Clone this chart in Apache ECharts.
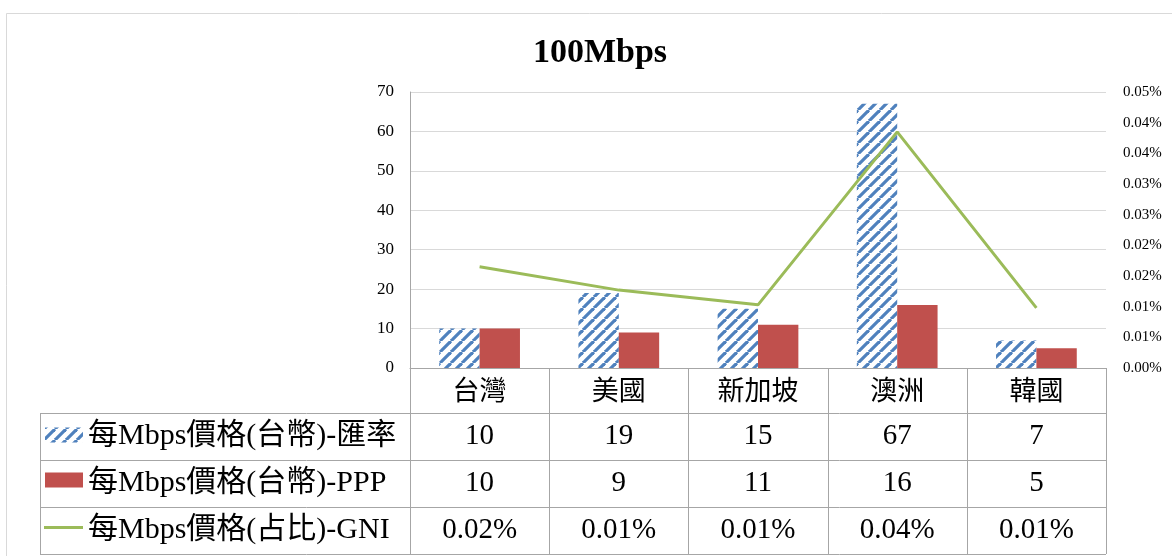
<!DOCTYPE html>
<html>
<head>
<meta charset="utf-8">
<script src="https://cdn.jsdelivr.net/npm/echarts@6/dist/echarts.min.js"></script>
<style>
  html, body { margin: 0; padding: 0; background: #fff; }
  #chart { width: 1172px; height: 556px; }
</style>
</head>
<body>
<div id="chart"></div>
<script>
// ---- data ----
const chartTitle = '100Mbps';
const categories = ['台灣', '美國', '新加坡', '澳洲', '韓國'];
const seriesNames = ['每Mbps價格(台幣)-匯率', '每Mbps價格(台幣)-PPP', '每Mbps價格(占比)-GNI'];
const priceFx = [10, 19, 15, 67, 7];          // NT$ per Mbps, exchange-rate basis
const pricePpp = [10, 9, 11, 16, 5];          // NT$ per Mbps, PPP basis
const shareGni = [0.0165, 0.0127, 0.0103, 0.0385, 0.0098]; // % of GNI per Mbps
const leftAxis = { min: 0, max: 70, interval: 10 };
const rightAxis = { min: 0, max: 0.045, interval: 0.005 };

// ---- styling ----
const SERIF = '"Liberation Serif", "Noto Sans CJK TC", serif';
const CJK = '"Noto Sans CJK TC", "Liberation Serif", sans-serif';
const BLUE = '#4f81bd', RED = '#c0504d', GREEN = '#9bbb59';
const TABLE_LINE = '#a6a6a6', GRID_LINE = '#d9d9d9';

function pct(v) {
  return (Math.round(v * 100 + 1e-9) / 100).toFixed(2) + '%';
}

// diagonal "/" stripe tile for the exchange-rate bars
function makeHatch() {
  const s = 11;
  const c = document.createElement('canvas');
  c.width = s; c.height = s;
  const ctx = c.getContext('2d');
  ctx.fillStyle = '#fff';
  ctx.fillRect(0, 0, s, s);
  ctx.strokeStyle = BLUE;
  ctx.lineWidth = 3.2;
  for (let k = -1; k <= 1; k++) {
    ctx.beginPath();
    ctx.moveTo(k * s, s);
    ctx.lineTo(k * s + s, 0);
    ctx.stroke();
  }
  return { image: c, repeat: 'repeat' };
}
const hatch = makeHatch();

const chart = echarts.init(document.getElementById('chart'));

const plotLeft = 410, plotRight = 1106, plotTop = 92, plotBottom = 368;

chart.setOption({
  animation: false,
  backgroundColor: '#fff',
  title: {
    text: chartTitle,
    left: 595,
    top: 31,
    textAlign: 'center',
    textStyle: { fontFamily: SERIF, fontSize: 34, fontWeight: 'bold', color: '#000' }
  },
  grid: { left: plotLeft, right: 1172 - plotRight, top: plotTop, bottom: 556 - plotBottom, containLabel: false },
  xAxis: {
    type: 'category',
    data: categories,
    axisLine: { show: true, lineStyle: { color: TABLE_LINE, width: 1 } },
    axisTick: { show: false },
    axisLabel: {
      margin: 22,
      verticalAlign: 'middle',
      fontFamily: CJK,
      fontSize: 27,
      color: '#000'
    }
  },
  yAxis: [
    {
      type: 'value',
      min: leftAxis.min, max: leftAxis.max, interval: leftAxis.interval,
      axisLine: { show: true, lineStyle: { color: TABLE_LINE, width: 1 } },
      axisTick: { show: false },
      splitLine: { lineStyle: { color: GRID_LINE, width: 1 } },
      axisLabel: { margin: 16, fontFamily: SERIF, fontSize: 17, color: '#000' }
    },
    {
      type: 'value',
      min: rightAxis.min, max: rightAxis.max, interval: rightAxis.interval,
      axisLine: { show: false },
      axisTick: { show: false },
      splitLine: { show: false },
      axisLabel: { margin: 17, fontFamily: SERIF, fontSize: 15, color: '#000', formatter: pct }
    }
  ],
  series: [
    {
      name: seriesNames[0], type: 'bar', data: priceFx,
      barGap: '0%', barCategoryGap: '42%',
      itemStyle: { color: hatch }
    },
    {
      name: seriesNames[1], type: 'bar', data: pricePpp,
      barGap: '0%', barCategoryGap: '42%',
      itemStyle: { color: RED }
    },
    {
      name: seriesNames[2], type: 'line', yAxisIndex: 1, data: shareGni,
      showSymbol: false, symbol: 'none',
      lineStyle: { color: GREEN, width: 3 },
      itemStyle: { color: GREEN },
      z: 5
    }
  ]
});

// ---- data table under the plot ----
const rowLines = [plotBottom, 413, 460, 507, 554];
const tableLeft = 40;
const c0 = chart.convertToPixel({ xAxisIndex: 0 }, 0);
const c1 = chart.convertToPixel({ xAxisIndex: 0 }, 1);
const colW = c1 - c0;
const centers = categories.map((_, i) => chart.convertToPixel({ xAxisIndex: 0 }, i));
const bounds = [];
for (let k = 0; k <= categories.length; k++) bounds.push(Math.round(c0 - colW / 2 + k * colW));

const g = [];
function hline(x1, x2, y) {
  g.push({ type: 'line', shape: { x1: x1, y1: y + 0.5, x2: x2, y2: y + 0.5 }, style: { stroke: TABLE_LINE, lineWidth: 1 }, silent: true });
}
function vline(x, y1, y2) {
  g.push({ type: 'line', shape: { x1: x + 0.5, y1: y1, x2: x + 0.5, y2: y2 }, style: { stroke: TABLE_LINE, lineWidth: 1 }, silent: true });
}

// outer chart frame
g.push({ type: 'rect', shape: { x: 6.5, y: 13.5, width: 1300, height: 700 }, style: { fill: null, stroke: GRID_LINE, lineWidth: 1 }, silent: true, z: -1 });

// horizontal rules
for (let r = 1; r < rowLines.length; r++) hline(tableLeft, bounds[bounds.length - 1], rowLines[r]);
// vertical rules
vline(tableLeft, rowLines[1], rowLines[rowLines.length - 1]);
for (let k = 0; k < bounds.length; k++) vline(bounds[k], plotBottom, rowLines[rowLines.length - 1]);

const rowValues = [
  priceFx.map(String),
  pricePpp.map(String),
  shareGni.map(pct)
];

for (let r = 0; r < 3; r++) {
  const cy = (rowLines[r + 1] + rowLines[r + 2]) / 2;
  // legend key
  if (r === 0) {
    g.push({ type: 'rect', shape: { x: 45, y: cy - 9, width: 38, height: 15 }, style: { fill: hatch }, silent: true });
  } else if (r === 1) {
    g.push({ type: 'rect', shape: { x: 45, y: cy - 11, width: 38, height: 15 }, style: { fill: RED }, silent: true });
  } else {
    g.push({ type: 'line', shape: { x1: 44, y1: cy - 3, x2: 83, y2: cy - 3 }, style: { stroke: GREEN, lineWidth: 3 }, silent: true });
  }
  // series name
  g.push({
    type: 'text', silent: true,
    style: { text: seriesNames[r], x: 88, y: cy, textAlign: 'left', textVerticalAlign: 'middle', font: '30px ' + SERIF, fill: '#000' }
  });
  // values
  for (let i = 0; i < categories.length; i++) {
    g.push({
      type: 'text', silent: true,
      style: { text: rowValues[r][i], x: centers[i], y: cy, textAlign: 'center', textVerticalAlign: 'middle', font: '29px ' + SERIF, fill: '#000' }
    });
  }
}

chart.setOption({ graphic: g });
</script>
</body>
</html>
